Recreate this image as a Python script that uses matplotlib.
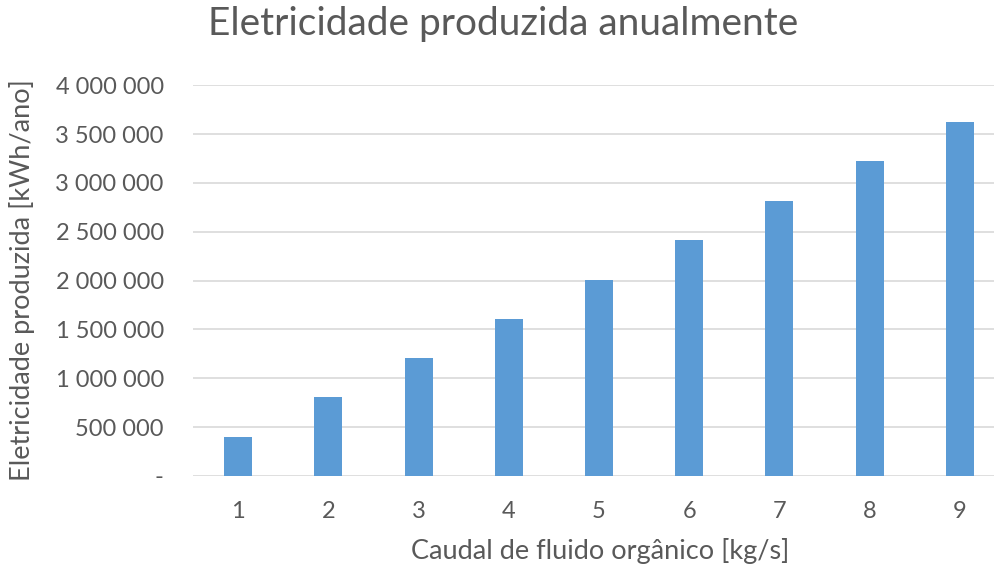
import matplotlib.pyplot as plt
from matplotlib.ticker import FuncFormatter

# Caudal de fluido orgânico [kg/s] e eletricidade anual [kWh/ano]
caudal = [1, 2, 3, 4, 5, 6, 7, 8, 9]
eletricidade = [403000, 805000, 1207000, 1610000, 2010000,
                2412000, 2818000, 3220000, 3620000]
y_ticks = [0, 500000, 1000000, 1500000, 2000000, 2500000,
           3000000, 3500000, 4000000]

cor_texto = '#595959'
plt.rcParams['font.family'] = ['Lato', 'DejaVu Sans']

fig = plt.figure(figsize=(9.95, 5.72), dpi=100)
# a área do gráfico continua um pouco para lá da margem direita
ax = fig.add_axes([0.194, 0.168, 0.816, 0.683])

ax.bar(caudal, eletricidade, width=0.31, color='#5b9bd5', zorder=3)

ax.set_xlim(0.5, 9.5)
ax.set_ylim(0, 4000000)
ax.set_xticks(caudal)
ax.set_yticks(y_ticks)


def formato(v, pos):
    # formato contabilístico: zero aparece como traço
    if v == 0:
        return '-'
    return f'{int(v):,}'.replace(',', ' ')


ax.yaxis.set_major_formatter(FuncFormatter(formato))
ax.grid(axis='y', color='#d9d9d9', linewidth=1.2, zorder=0)
for s in ax.spines.values():
    s.set_visible(False)
ax.tick_params(length=0, labelsize=17, labelcolor=cor_texto)
ax.tick_params(axis='x', pad=18)
ax.tick_params(axis='y', pad=21)

fig.text(600 / 995, 1 - 551 / 572, 'Caudal de fluido orgânico [kg/s]',
         fontsize=19.5, color=cor_texto, ha='center', va='center')
fig.text(22 / 995, 1 - 280 / 572, 'Eletricidade produzida [kWh/ano]',
         fontsize=19.5, color=cor_texto, ha='center', va='center',
         rotation=90)
fig.text(503 / 995, 1 - 24 / 572, 'Eletricidade produzida anualmente',
         fontsize=28, color=cor_texto, ha='center', va='center')

fig.savefig('out.png', dpi=100)
